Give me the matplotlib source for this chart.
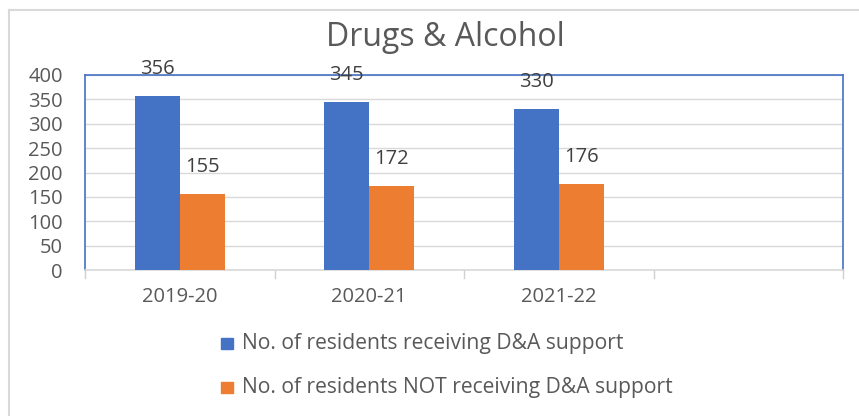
import matplotlib
matplotlib.use("Agg")
import matplotlib.pyplot as plt
from matplotlib.lines import Line2D
import numpy as np

plt.rcParams['font.family'] = ['Open Sans', 'DejaVu Sans']

categories = ["2019-20", "2020-21", "2021-22", ""]
receiving = [356, 345, 330]
not_receiving = [155, 172, 176]
series_names = ["No. of residents receiving D&A support",
                "No. of residents NOT receiving D&A support"]
yticks = [0, 50, 100, 150, 200, 250, 300, 350, 400]

blue = "#4472C4"
orange = "#ED7D31"
text_col = "#595959"

fig = plt.figure(figsize=(8.59, 4.16), dpi=100)
ax = fig.add_axes([85/859, 1-270/416, (843-85)/859, (270-75)/416])

n = len(receiving)
x = np.arange(n)
w = 0.237
ax.bar(x - w/2, receiving, width=w, color=blue, zorder=3)
ax.bar(x + w/2, not_receiving, width=w, color=orange, zorder=3)

for xi, v in zip(x - w/2, receiving):
    ax.annotate(str(v), (xi, v), xytext=(0, 27), textcoords="offset pixels",
                ha="center", va="center", fontsize=14.5, color="#404040", zorder=5,
                annotation_clip=False)
for xi, v in zip(x + w/2, not_receiving):
    ax.annotate(str(v), (xi, v), xytext=(0, 27), textcoords="offset pixels",
                ha="center", va="center", fontsize=14.5, color="#404040", zorder=5,
                annotation_clip=False)

ax.set_xlim(-0.5, len(categories) - 0.5)
ax.set_ylim(0, 400)
ax.set_yticks(yticks)
ax.set_yticklabels([str(t) for t in yticks], fontsize=14.5, color=text_col)
ax.set_xticks(np.arange(len(categories)))
ax.set_xticklabels(categories, fontsize=14.5, color=text_col)
ax.tick_params(axis='y', length=0, pad=16)
ax.tick_params(axis='x', length=0, pad=12)
for b in np.arange(len(categories) + 1) - 0.5:
    ax.plot([b, b], [0, -0.04], transform=ax.get_xaxis_transform(), color="#d0d0d0",
            lw=1, clip_on=False, zorder=2)
ax.grid(axis='y', color="#d9d9d9", lw=1, zorder=0)
for s in ax.spines.values():
    s.set_color("#4472C4")
    s.set_linewidth(1.2)
ax.spines['bottom'].set_color("#d9d9d9")

fig.text(445/859, 1-38/416, "Drugs & Alcohol", ha="center", va="center",
         fontsize=23, color=text_col)

for i, (name, col) in enumerate(zip(series_names, [blue, orange])):
    yy = 1 - (343 + 44*i)/416
    fig.patches.append(plt.Rectangle((221/859, yy - 5.5/416), 12/859, 11/416,
                                     transform=fig.transFigure, color=col))
    fig.text(242/859, yy, name, ha="left", va="center", fontsize=15.2, color=text_col)

fig.add_artist(Line2D([9/859, 9/859], [0, 1-10/416], transform=fig.transFigure,
                      color="#d9d9d9", lw=1.5))
fig.add_artist(Line2D([9/859, 1], [1-10/416, 1-10/416], transform=fig.transFigure,
                      color="#d9d9d9", lw=1.5))

fig.savefig("out.png", dpi=100)
